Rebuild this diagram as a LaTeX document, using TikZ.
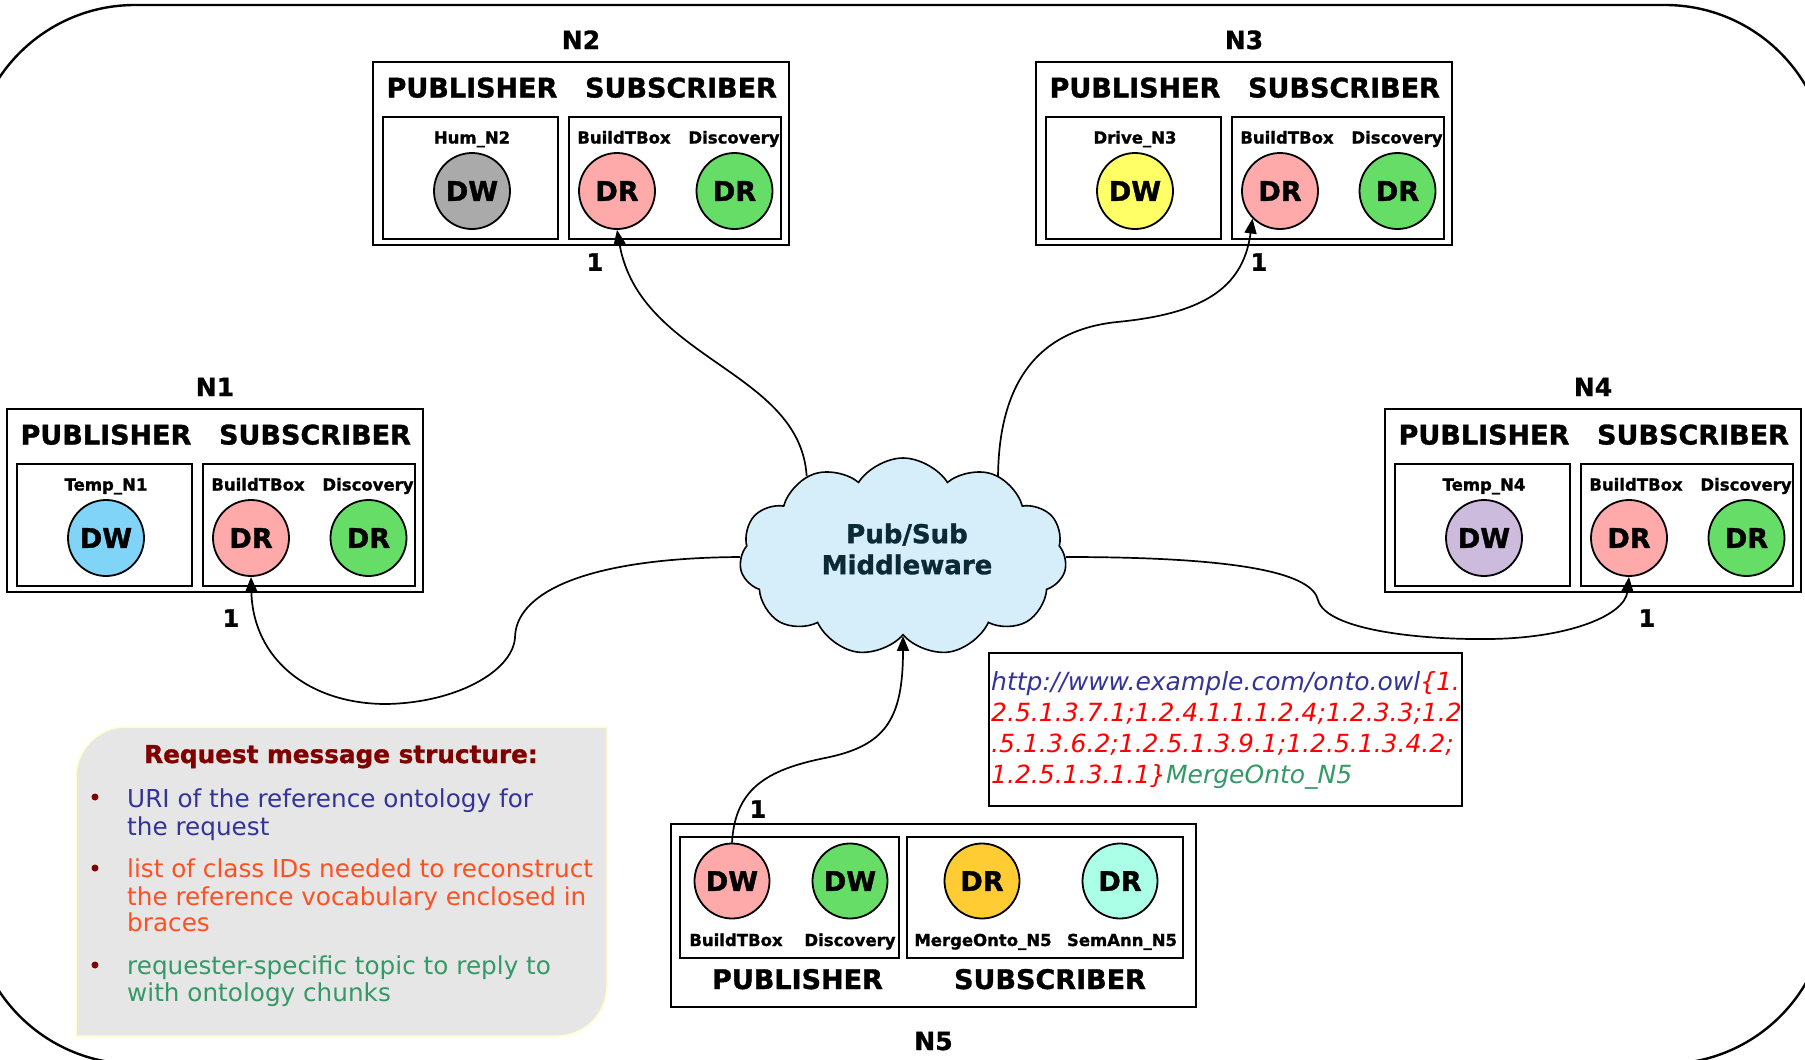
\documentclass[tikz,border=0pt]{standalone}
\usepackage{fontspec}
\setmainfont{DejaVu Sans}[BoldFeatures={FakeBold=1.2}]
\usetikzlibrary{arrows.meta,shapes.symbols,calc}
\pgfdeclarelayer{bg}
\pgfdeclarelayer{edges}
\pgfsetlayers{bg,edges,main}

\definecolor{pinkc}{HTML}{FFAAAA}
\definecolor{greenc}{HTML}{66DD66}
\definecolor{grayc}{HTML}{AAAAAA}
\definecolor{yellowc}{HTML}{FFFF66}
\definecolor{skyc}{HTML}{80D4F7}
\definecolor{lilac}{HTML}{CCBBDD}
\definecolor{orangec}{HTML}{FFCC33}
\definecolor{mintc}{HTML}{AAFFE6}
\definecolor{cloudfill}{HTML}{D5EEF9}
\definecolor{cloudtext}{HTML}{0B2A36}
\definecolor{uriblue}{HTML}{333399}
\definecolor{idred}{HTML}{FF0000}
\definecolor{listred}{HTML}{FF5022}
\definecolor{topicgreen}{HTML}{339966}
\definecolor{titlered}{HTML}{800000}
\definecolor{notefill}{HTML}{E6E6E6}
\definecolor{noteedge}{HTML}{FFFFCC}

\newcommand\setfs[2]{\fontsize{#1}{#2}\selectfont}

\tikzset{
  frame/.style={draw, line width=2, inner sep=0, outer sep=0, anchor=north west},
  role/.style={font=\bfseries\setfs{27}{32}, inner sep=0, anchor=base},
  ttl/.style={font=\bfseries\setfs{25}{30}, inner sep=0, anchor=base},
  tag/.style={font=\bfseries\setfs{16.5}{19}, inner sep=0, anchor=base},
  ep/.style={circle, draw, line width=1.8, minimum size=76, inner sep=0,
             font=\bfseries\setfs{27}{32}},
  num/.style={font=\bfseries\setfs{24}{29}, inner sep=0},
  conn/.style={line width=1.7},
  tohead/.style={-{Triangle[length=15pt,width=12pt]}},
  uri/.style={font=\itshape\setfs{25}{30}, inner sep=0, anchor=base west},
  bl/.style={font=\setfs{24.7}{28}, inner sep=0, anchor=base west},
}

% one peer: id, left x, top y, name, writer topic, writer colour
\newcommand\peer[6]{%
\begin{scope}[shift={(#2,#3)}]
  \node[frame, minimum width=416, minimum height=183] (#1box) at (0,0) {};
  \node[ttl] (#1name) at (208,-13) {#4};
  \node[role] (#1pub) at (99,35.5) {PUBLISHER};
  \node[role] (#1sub) at (308,35.5) {SUBSCRIBER};
  \node[frame, minimum width=175, minimum height=122] (#1pubbox) at (10,55) {};
  \node[frame, minimum width=212, minimum height=122] (#1subbox) at (196,55) {};
  \node[tag] (#1dwtag) at (99,81.5) {#5};
  \node[tag] (#1drtag) at (251,81.5) {BuildTBox};
  \node[tag] (#1disctag) at (361,81.5) {Discovery};
  \node[ep, fill=#6] (#1dw) at (99,129) {DW};
  \node[ep, fill=pinkc] (#1dr) at (244,129) {DR};
  \node[ep, fill=greenc] (#1disc) at (361.5,129) {DR};
\end{scope}}

\begin{document}
\begin{tikzpicture}[x=1pt,y=-1pt]
\useasboundingbox (0,0) rectangle (1805,1060);
\begin{pgfonlayer}{bg}
  \fill[white] (0,0) rectangle (1805,1060);
\end{pgfonlayer}

% network boundary
\begin{scope}
  \clip (0,0) rectangle (1805,1060);
  \draw[line width=2.4, rounded corners=163pt] (-28,5) rectangle (1828,1064);
\end{scope}

% peers
\peer{n1}{7}{409}{N1}{Temp\_N1}{skyc}
\peer{n2}{373}{62}{N2}{Hum\_N2}{grayc}
\peer{n3}{1036}{62}{N3}{Drive\_N3}{yellowc}
\peer{n4}{1385}{409}{N4}{Temp\_N4}{lilac}

% requesting peer N5
\node[frame, minimum width=525, minimum height=183] (n5box) at (671,824) {};
\node[frame, minimum width=219, minimum height=121] (n5pubbox) at (680,837) {};
\node[frame, minimum width=275.5, minimum height=121] (n5subbox) at (907,837) {};
\node[ep, minimum size=75, fill=pinkc] (n5dw) at (732,881) {DW};
\node[ep, minimum size=75, fill=greenc] (n5disc) at (850,881) {DW};
\node[ep, minimum size=75, fill=orangec] (n5merge) at (982,881) {DR};
\node[ep, minimum size=75, fill=mintc] (n5sem) at (1120,881) {DR};
\node[tag] (n5dwtag) at (736,946) {BuildTBox};
\node[tag] (n5disctag) at (850,946) {Discovery};
\node[tag] (n5mergetag) at (983,946) {MergeOnto\_N5};
\node[tag] (n5semtag) at (1122,946) {SemAnn\_N5};
\node[role] (n5pub) at (797.5,989) {PUBLISHER};
\node[role] (n5sub) at (1050,989) {SUBSCRIBER};
\node[ttl] (n5name) at (933.5,1050) {N5};

% middleware
\node[cloud, cloud puffs=11, cloud puff arc=115, aspect=1.65, draw, line width=1.6,
      fill=cloudfill, minimum width=327, minimum height=198, inner sep=0] (cloud) at (903,557) {};
\node[align=center, text=cloudtext, font=\bfseries\setfs{26}{31}, inner sep=0]
      (cloudtxt) at (907,549) {Pub/Sub\\Middleware};

% request delivery
\begin{pgfonlayer}{edges}
\draw[conn, tohead] (cloud.140) .. controls (800,370) and (640,360) .. (n2dr.south);
\draw[conn, tohead] ($(cloud.center)+(95,-77)$) .. controls (998,380) and (1040,330) .. (1117,322)
      .. controls (1200,314) and (1243,290) .. (n3dr.225);
\draw[conn, tohead] (cloud.west) .. controls (580,558) and (515,595) .. (515,638)
      .. controls (512,672) and (455,703) .. (386,704)
      .. controls (310,704) and (253,660) .. (n1dr.south);
\draw[conn, tohead] (cloud.east) .. controls (1250,557) and (1312,575) .. (1318,600)
      .. controls (1326,630) and (1420,640) .. (1490,639)
      .. controls (1570,638) and (1625,615) .. (n4dr.south);
\draw[conn, tohead] (n5dw.north) .. controls (735,790) and (765,770) .. (825,758)
      .. controls (885,746) and (903,720) .. (cloud.south);
\end{pgfonlayer}

\node[num] (m2) at (595,262) {1};
\node[num] (m3) at (1259,262) {1};
\node[num] (m1) at (231,618) {1};
\node[num] (m4) at (1647,618) {1};
\node[num] (m5) at (758,809) {1};

% request message example
\node[frame, minimum width=473, minimum height=153] (uribox) at (989,653) {};
\node[uri] (uri1) at (991,690) {\color{uriblue}http://www.example.com/onto.owl\color{idred}\{1.};
\node[uri, text=idred] (uri2) at (991,721) {2.5.1.3.7.1;1.2.4.1.1.1.2.4;1.2.3.3;1.2};
\node[uri, text=idred] (uri3) at (991,752) {.5.1.3.6.2;1.2.5.1.3.9.1;1.2.5.1.3.4.2;};
\node[uri] (uri4) at (991,783) {\color{idred}1.2.5.1.3.1.1\}\color{topicgreen}MergeOnto\_N5};

% legend
\draw[draw=noteedge, line width=1.5, fill=notefill] (76,1036) -- (76,777)
  .. controls (76,749.4) and (98.4,727) .. (126,727) -- (607,727) -- (607,986)
  .. controls (607,1013.6) and (584.6,1036) .. (557,1036) -- cycle;
\node[font=\bfseries\setfs{24.7}{28}, text=titlered, inner sep=0, anchor=base]
  (rqtitle) at (341,763) {Request message structure:};
\fill[titlered] (95,797) circle[radius=3.5];
\fill[titlered] (95,868) circle[radius=3.5];
\fill[titlered] (95,965) circle[radius=3.5];
\node[bl, text=uriblue] (rq1a) at (127,807) {URI of the reference ontology for};
\node[bl, text=uriblue] (rq1b) at (127,835) {the request};
\node[bl, text=listred] (rq2a) at (127,877) {list of class IDs needed to reconstruct};
\node[bl, text=listred] (rq2b) at (127,905) {the reference vocabulary enclosed in};
\node[bl, text=listred] (rq2c) at (127,931) {braces};
\node[bl, text=topicgreen] (rq3a) at (127,974) {requester-specific topic to reply to};
\node[bl, text=topicgreen] (rq3b) at (127,1001) {with ontology chunks};
\end{tikzpicture}
\end{document}
